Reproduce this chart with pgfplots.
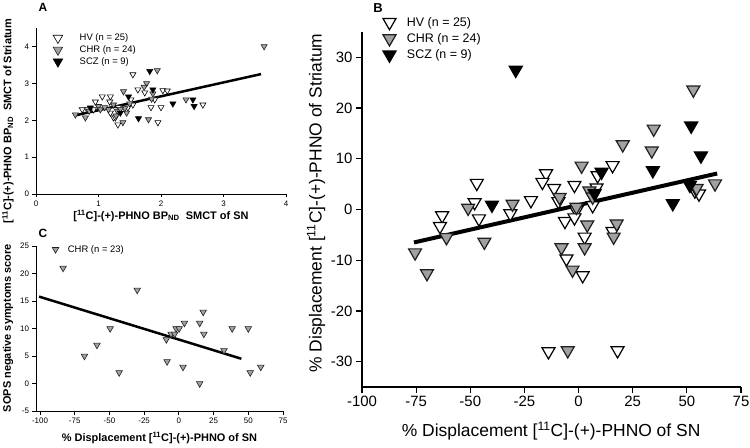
\documentclass[border=0pt]{standalone}
\usepackage{pgfplots}
\pgfplotsset{compat=1.18}
\usepackage{fontspec}
\setmainfont{Liberation Sans}
\definecolor{chrgray}{gray}{0.63}
\definecolor{edgegray}{gray}{0.12}
\begin{document}
\begin{tikzpicture}
\useasboundingbox (0bp,0bp) rectangle (750bp,448bp);
\pgfplotsset{
  panel/.style={
    scale only axis, clip=false, anchor=south west,
    axis x line*=bottom, axis y line*=left,
    tick align=outside,
    /pgf/number format/assume math mode=true,
    legend cell align=left,
  },
  hv/.style={only marks, mark=triangle*, mark options={rotate=180, fill=white, draw=black, line width=#1}},
  chr/.style={only marks, mark=triangle*, mark options={rotate=180, fill=chrgray, draw=edgegray, line width=#1}},
  scz/.style={only marks, mark=triangle*, mark options={rotate=180, fill=black, draw=black, line width=#1}},
}
% ---------------- Panel A ----------------
\begin{axis}[panel, at={(36bp,254bp)}, width=250bp, height=166bp,
  xmin=0, xmax=4, ymin=0, ymax=4.5,
  xtick={0,1,2,3,4}, ytick={0,1,2,3,4},
  major tick length=3.5bp,
  tick label style={font=\fontsize{8}{8}\selectfont},
  axis line style={line width=0.8bp}, tick style={line width=0.8bp, black},
  xlabel={[\textsuperscript{11}C]-(+)-PHNO BP\textsubscript{ND}\ \ SMCT of SN},
  ylabel={[\textsuperscript{11}C]-(+)-PHNO BP\textsubscript{ND}\ \ SMCT of Striatum},
  label style={font=\bfseries\fontsize{11}{11}\selectfont},
  xlabel style={at={(axis description cs:0.5,-0.13)}, anchor=center},
  ylabel style={at={(axis description cs:-0.112,0.44)}, anchor=center},
  mark size=3.5bp,
  legend image code/.code={\draw[#1, mark size=5.5bp] plot coordinates {(0bp,0bp)};},
  legend style={at={(axis description cs:0.056,0.99)}, anchor=north west, draw=none, fill=none,
    font=\fontsize{9.5}{10}\selectfont, row sep=-0.5bp, column sep=15bp},
]
\addplot[hv=0.6bp] coordinates {
(1.55,3.24) (1.63,2.83) (1.74,2.75) (2.03,2.81) (2.10,2.80) (1.90,2.56) (1.19,2.64)
(1.52,2.56) (1.06,2.64) (0.95,2.50) (1.18,2.50) (1.32,2.35) (1.55,2.42) (1.84,2.35)
(2.00,2.35) (2.67,2.42) (1.95,1.94) (1.31,1.88) (1.24,2.07) (0.82,2.29) (0.74,2.29)
(0.92,2.29) (1.47,2.34) (1.19,2.20) (1.27,2.07)};
\addlegendentry{HV (n = 25)}
\addplot[chr=0.6bp] coordinates {
(1.94,3.35) (1.77,3.00) (1.73,2.90) (1.87,2.72) (1.85,2.58) (1.40,2.78) (1.24,2.42)
(1.00,2.38) (2.40,2.56) (1.80,2.02) (1.39,1.94) (1.16,2.29) (0.63,2.15) (0.79,2.07)
(1.03,2.29) (1.45,2.20) (3.65,4.00) (1.30,2.25) (1.42,2.32) (1.50,2.45) (1.10,2.35)
(0.85,2.25) (1.28,2.12) (1.35,2.30)};
\addlegendentry{CHR (n = 24)}
\addplot[scz=0.6bp] coordinates {
(1.82,3.33) (1.87,2.83) (1.48,2.64) (2.19,2.45) (2.51,2.56) (2.53,2.38) (1.64,2.05)
(0.87,2.34) (1.35,2.20)};
\addlegendentry{SCZ (n = 9)}
\addplot[black, line width=2.5bp, no marks, forget plot] coordinates {(0.65,2.14) (3.6,3.25)};
\end{axis}
% ---------------- Panel C ----------------
\begin{axis}[panel, at={(36bp,37bp)}, width=247bp, height=165bp,
  xmin=-102.9, xmax=75, ymin=-5, ymax=25,
  xtick={-100,-75,...,75}, ytick={-5,0,...,25},
  major tick length=3.5bp,
  tick label style={font=\fontsize{8}{8}\selectfont},
  axis line style={line width=0.8bp}, tick style={line width=0.8bp, black},
  xlabel={\% Displacement [\textsuperscript{11}C]-(+)-PHNO of SN},
  ylabel={SOPS negative symptoms score},
  label style={font=\bfseries\fontsize{11}{11}\selectfont},
  xlabel style={at={(axis description cs:0.5,-0.164)}, anchor=center},
  ylabel style={at={(axis description cs:-0.113,0.503)}, anchor=center},
  mark size=3.8bp,
  legend image code/.code={\draw[#1] plot coordinates {(0bp,0bp)};},
  legend style={at={(axis description cs:0.053,1.03)}, anchor=north west, draw=none, fill=none,
    font=\fontsize{9.5}{10}\selectfont, column sep=7bp},
]
\addplot[chr=0.6bp] coordinates {
(-83.4,21) (-30,17) (-49.5,10) (-59,7) (-68,5) (-43,2) (-9,8) (-8.5,4) (-5.6,9) (-3,9)
(-2,10) (0.2,10) (4,11) (3,3) (15,11) (17.5,13) (18,9) (15,0) (32.5,6) (38.4,10)
(50,10) (51.4,2) (59,3)};
\addlegendentry{CHR (n = 23)}
\addplot[black, line width=2.5bp, no marks, forget plot] coordinates {(-100.7,15.8) (45,4.5)};
\end{axis}
% ---------------- Panel B ----------------
\begin{axis}[panel, at={(362bp,61bp)}, width=379bp, height=355bp,
  xmin=-100, xmax=75, ymin=-35, ymax=35,
  xtick={-100,-75,...,75}, ytick={-30,-20,...,30},
  major tick length=6bp,
  tick label style={font=\fontsize{15}{15}\selectfont},
  axis line style={line width=1.2bp}, tick style={line width=1.2bp, black},
  xlabel={\% Displacement [\textsuperscript{11}C]-(+)-PHNO of SN},
  ylabel={\% Displacement [\textsuperscript{11}C]-(+)-PHNO of Striatum},
  label style={font=\fontsize{17.5}{17.5}\selectfont},
  xlabel style={at={(axis description cs:0.499,-0.124)}, anchor=center},
  ylabel style={at={(axis description cs:-0.121,0.518)}, anchor=center},
  mark size=7.5bp,
  legend image code/.code={\draw[#1] plot coordinates {(0bp,0bp)};},
  legend style={at={(axis description cs:0.047,1.054)}, anchor=north west, draw=none, fill=none,
    font=\fontsize{12.5}{13}\selectfont, row sep=1.5bp, column sep=9bp},
]
\addplot[hv=1.2bp] coordinates {
(-47,5.2) (-48,1.4) (-46,-1.8) (-63,-1.2) (-64,-3.3) (-31.5,-0.8) (-22,1.8) (-15,7.1)
(-16.7,5.4) (-11.3,4.2) (-9.3,1.6) (-1.9,4.8) (8.8,6.7) (15.7,8.7) (-1,-0.2) (-6.3,-2.3)
(-1.9,-1.6) (6.5,0.8) (8.3,4.3) (2.8,-5.4) (15.7,-4.3) (-5.6,-9.7) (1.9,-13) (-13.9,-28)
(18,-27.8) (53.7,3.7) (55.6,3.1)};
\addlegendentry{HV (n = 25)}
\addplot[chr=1.2bp] coordinates {
(53,23.6) (34.7,15.9) (20.4,12.8) (33.8,11.6) (1.4,8.6) (-8.8,2.4) (5,3.7) (-1,0.5)
(63,5.1) (54.5,4.2) (-30.5,1.1) (-51,0.3) (-61,-5.5) (-43.5,-6.4) (-75.5,-8.5)
(-70,-12.6) (4,-3) (17.6,-2.8) (16.2,-5.4) (2.8,-7.5) (-7.9,-7.5) (-2.8,-11.9)
(-5,-27.8) (6.5,2.5)};
\addlegendentry{CHR (n = 24)}
\addplot[scz=1.2bp] coordinates {
(-29,27.5) (52,16.5) (56.5,10.6) (34.3,7.7) (10.6,7.4) (7.4,3.2) (43.5,1.2) (51.4,4.8) (-40,0.9)};
\addlegendentry{SCZ (n = 9)}
\addplot[black, line width=4bp, no marks, forget plot] coordinates {(-76,-6.5) (64,7.1)};
\end{axis}
\node[font=\bfseries\fontsize{12}{12}\selectfont] at (43bp,441bp) {A};
\node[font=\bfseries\fontsize{13}{13}\selectfont] at (378bp,440bp) {B};
\node[font=\bfseries\fontsize{12}{12}\selectfont] at (43bp,215bp) {C};
\end{tikzpicture}
\end{document}
